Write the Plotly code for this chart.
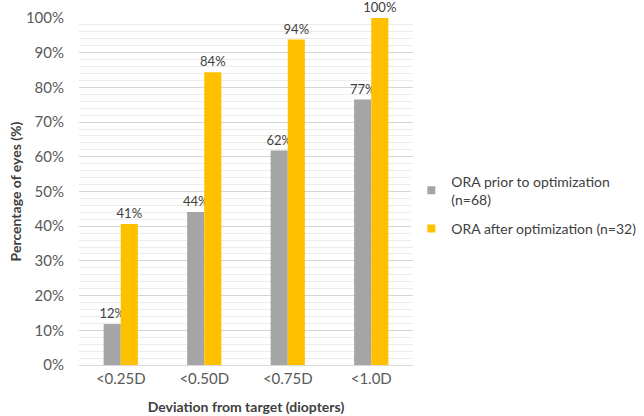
import plotly.graph_objects as go

categories = ["<0.25D", "<0.50D", "<0.75D", "<1.0D"]
prior_vals = [11.8, 44.1, 61.8, 76.5]
after_vals = [40.6, 84.4, 93.8, 100.0]
prior_labels = ["12%", "44%", "62%", "77%"]
after_labels = ["41%", "84%", "94%", "100%"]
series_names = ["ORA prior to optimization<br>(n=68)", "ORA after optimization (n=32)"]
colors = ["#a5a5a5", "#ffc000"]

FONT = "Lato"
TXT = "#404040"

fig = go.Figure()
for vals, labels, col in [(prior_vals, prior_labels, colors[0]), (after_vals, after_labels, colors[1])]:
    fig.add_trace(go.Bar(
        x=categories, y=vals, showlegend=False,
        marker=dict(color=col, line=dict(width=0)),
        text=labels, textposition="outside", cliponaxis=False,
        constraintext="none",
        textfont=dict(family=FONT, size=13, color=TXT),
    ))
for i, (name, col) in enumerate(zip(series_names, colors)):
    fig.add_trace(go.Scatter(
        x=[None], y=[None], mode="markers", name=name, legendgroup=f"g{i}",
        marker=dict(symbol="square", size=8, color=col),
    ))

fig.update_layout(
    width=644, height=416,
    margin=dict(l=79, r=231, t=18, b=51, autoexpand=False),
    paper_bgcolor="white", plot_bgcolor="white",
    barmode="group", bargap=0.59, bargroupgap=0,
    font=dict(family=FONT, size=14, color="#595959"),
    showlegend=True,
    legend=dict(x=0.995, y=0.575, xanchor="left", yanchor="top",
                font=dict(family=FONT, size=14, color=TXT),
                itemwidth=30, tracegroupgap=8, traceorder="grouped"),
    xaxis=dict(showgrid=False, showline=True, linecolor="#d9d9d9", linewidth=1,
               ticks="", tickfont=dict(size=15, color="#595959"),
               automargin=False,
               title=dict(text="<b>Deviation from target (diopters)</b>",
                          font=dict(size=14, color=TXT), standoff=16)),
    yaxis=dict(range=[0, 100], dtick=10, ticksuffix="%",
               showgrid=True, gridcolor="#d4d4d4", gridwidth=1,
               minor=dict(dtick=2, showgrid=True, gridcolor="#ececec", gridwidth=1),
               zeroline=False, showline=False, ticks="",
               ticklabelstandoff=14, automargin=False,
               tickfont=dict(size=15, color="#595959"),
               title=dict(text="<b>Percentage of eyes (%)</b>",
                          font=dict(size=14, color=TXT), standoff=0)),
)

fig.write_html("out.html")
